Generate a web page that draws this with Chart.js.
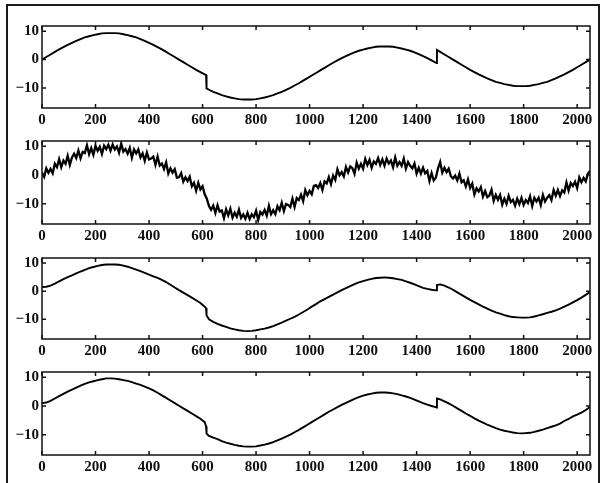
<!DOCTYPE html>
<html>
<head>
<meta charset="utf-8">
<script src="https://cdn.jsdelivr.net/npm/chart.js@4.4.1/dist/chart.umd.min.js"></script>
<style>
  html, body { margin: 0; padding: 0; background: #fff; }
  #fig { position: relative; width: 601px; height: 483px; overflow: hidden; background: #fff; }
  #frame { position: absolute; left: 6px; top: 4px; width: 590px; height: 490px;
           border-left: 2px solid #1a1a1a; border-top: 2px solid #1a1a1a; border-right: 2px solid #1a1a1a; }
  canvas { position: absolute; left: 0; }
</style>
</head>
<body>
<div id="fig">
  <div id="frame"></div>
  <canvas id="c1" width="601" height="122" style="top:14px"></canvas>
  <canvas id="c2" width="601" height="123" style="top:129px"></canvas>
  <canvas id="c3" width="601" height="121" style="top:246px"></canvas>
  <canvas id="c4" width="601" height="123" style="top:360px"></canvas>
</div>
<script>
// sample positions for the smooth signals (extra points sit on both sides of the two jumps)
const smoothIndex = [0,16,32,48,64,80,96,112,128,144,160,176,192,208,224,240,256,272,288,304,320,336,352,368,384,400,416,432,448,464,480,496,512,528,544,560,576,592,608,613,615,624,640,656,672,688,704,720,736,752,768,784,800,816,832,848,864,880,896,912,928,944,960,976,992,1008,1024,1040,1056,1072,1088,1104,1120,1136,1152,1168,1184,1200,1216,1232,1248,1264,1280,1296,1312,1328,1344,1360,1376,1392,1408,1424,1440,1456,1472,1474,1476,1488,1504,1520,1536,1552,1568,1584,1600,1616,1632,1648,1664,1680,1696,1712,1728,1744,1760,1776,1792,1808,1824,1840,1856,1872,1888,1904,1920,1936,1952,1968,1984,2000,2016,2032,2048];

// sample positions for the noisy signal
const noisyIndex = [0,8,16,24,32,40,48,56,64,72,80,88,96,104,112,120,128,136,144,152,160,168,176,184,192,200,208,216,224,232,240,248,256,264,272,280,288,296,304,312,320,328,336,344,352,360,368,376,384,392,400,408,416,424,432,440,448,456,464,472,480,488,496,504,512,520,528,536,544,552,560,568,576,584,592,600,608,616,624,632,640,648,656,664,672,680,688,696,704,712,720,728,736,744,752,760,768,776,784,792,800,808,816,824,832,840,848,856,864,872,880,888,896,904,912,920,928,936,944,952,960,968,976,984,992,1000,1008,1016,1024,1032,1040,1048,1056,1064,1072,1080,1088,1096,1104,1112,1120,1128,1136,1144,1152,1160,1168,1176,1184,1192,1200,1208,1216,1224,1232,1240,1248,1256,1264,1272,1280,1288,1296,1304,1312,1320,1328,1336,1344,1352,1360,1368,1376,1384,1392,1400,1408,1416,1424,1432,1440,1448,1456,1464,1472,1480,1488,1496,1504,1512,1520,1528,1536,1544,1552,1560,1568,1576,1584,1592,1600,1608,1616,1624,1632,1640,1648,1656,1664,1672,1680,1688,1696,1704,1712,1720,1728,1736,1744,1752,1760,1768,1776,1784,1792,1800,1808,1816,1824,1832,1840,1848,1856,1864,1872,1880,1888,1896,1904,1912,1920,1928,1936,1944,1952,1960,1968,1976,1984,1992,2000,2008,2016,2024,2032,2040,2048];

// original signal
const cleanSignal = [
  0,0.9,1.8,2.7,3.6,4.4,5.2,5.9,6.6,7.2,7.8,8.2,8.6,8.9,9.2,9.3,9.3,9.3,9.2,8.9,8.6,8.2,7.8,7.2,6.6,5.9,5.2,4.4,3.6,2.7,1.8,0.9,0,-0.9,-1.8,-2.7,-3.6,-4.4,-5.2,
  -5.4,-10.1,
  -10.6,-11.3,-11.9,-12.5,-12.9,-13.3,-13.6,-13.9,-14.0,-14.0,-14.0,-13.9,-13.6,-13.3,-12.9,-12.5,-11.9,-11.3,-10.6,-9.9,-9.1,-8.3,-7.4,-6.5,-5.6,-4.7,-3.8,-2.9,-2.0,-1.1,-0.3,0.5,1.2,1.9,2.5,3.1,3.5,3.9,4.2,4.5,4.6,4.6,4.6,4.5,4.2,3.9,3.5,3.1,2.5,1.9,1.2,0.5,-0.3,-1.1,
  -1.2,3.4,
  2.7,1.8,0.9,0,-0.9,-1.8,-2.7,-3.6,-4.4,-5.2,-5.9,-6.6,-7.2,-7.8,-8.2,-8.6,-8.9,-9.2,-9.3,-9.3,-9.3,-9.2,-8.9,-8.6,-8.2,-7.8,-7.2,-6.6,-5.9,-5.2,-4.4,-3.6,-2.7,-1.8,-0.9,0
];

// signal with noise
const noisySignal = [
  0.8,-0.6,2.3,0.8,2.1,0.6,3.9,2.7,5.5,2.7,5.0,3.9,6.7,3.5,6.1,7.4,5.9,8.5,5.8,8.0,7.6,10.3,7.2,9.3,7.0,10.1,8.4,9.8,7.3,10.2,9.0,10.5,
  8.4,10.6,8.9,9.9,7.7,10.9,8.1,9.0,7.4,9.4,6.0,8.9,7.5,8.9,6.1,7.5,4.9,7.8,5.4,5.7,6.4,3.5,6.4,3.3,4.0,2.1,4.4,0.5,2.3,0.8,2.0,-0.9,
  -0.8,0.6,-2.3,-0.8,-2.1,-0.6,-3.9,-2.7,-5.5,-2.7,-5.0,-3.9,-6.7,-8.2,-10.8,-12.1,-10.6,-13.2,-10.5,-12.7,-12.3,-15.0,-11.9,-14.0,-11.7,-14.8,-13.1,-14.5,-12.0,-14.9,-13.7,-15.2,
  -13.1,-15.3,-13.6,-14.6,-12.4,-15.6,-12.8,-13.7,-12.1,-14.1,-10.7,-13.6,-12.2,-13.6,-10.8,-12.2,-9.6,-12.5,-10.1,-10.4,-11.1,-8.2,-11.1,-8.0,-8.7,-6.8,-9.1,-5.2,-7.0,-5.5,-6.7,-3.8,
  -3.5,-4.5,-2.8,-5.2,-2.2,-2.9,-0.7,-3.2,-0.2,-1.7,2.0,-0.1,1.0,-0.5,2.8,0.9,3.0,2.4,0.4,4.3,2.2,3.9,2.2,5.6,3.5,5.3,2.5,4.7,3.9,5.9,3.5,5.4,
  3.2,5.7,4.0,5.0,2.7,6.1,3.2,4.5,3.2,5.7,2.2,4.5,3.2,2.3,4.0,0.5,2.5,0.5,2.6,0.6,1.4,-2.1,0.7,-1.9,-0.9,2.3,4.5,0.8,2.5,1.0,2.2,-0.4,
  -1.2,-0.2,-1.9,0.5,-2.5,-1.8,-4.0,-1.5,-4.5,-3.0,-6.7,-4.6,-5.7,-4.2,-7.5,-5.6,-7.7,-7.1,-5.1,-9.0,-6.9,-8.6,-6.9,-10.3,-8.2,-10.0,-7.2,-9.4,-8.6,-10.6,-8.2,-10.1,
  -7.9,-10.4,-8.7,-9.7,-7.4,-10.8,-7.9,-9.2,-7.9,-10.4,-6.9,-9.2,-7.9,-7.0,-8.7,-5.2,-7.2,-5.2,-7.3,-5.3,-6.1,-2.6,-5.4,-2.8,-3.8,-2.3,-4.5,-0.8,-2.5,-1.0,-2.2,0.4,
  1.4
];

// first reconstruction
const denoisedA = [
  1.5,1.6,2.0,2.7,3.5,4.3,5.0,5.6,6.3,7.0,7.6,8.2,8.6,9.0,9.3,9.5,9.5,9.5,9.4,9.1,8.7,8.2,7.7,7.1,6.5,5.9,5.3,4.7,4.0,3.2,2.3,1.3,0.4,-0.5,-1.4,-2.3,-3.2,-4.2,-5.5,
  -6.0,-8.6,
  -10.0,-10.9,-11.6,-12.2,-12.7,-13.2,-13.6,-13.9,-14.1,-14.2,-14.1,-13.9,-13.6,-13.3,-12.9,-12.4,-11.8,-11.2,-10.5,-9.8,-9.1,-8.3,-7.4,-6.5,-5.5,-4.6,-3.6,-2.8,-2.0,-1.2,-0.4,0.4,1.1,1.8,2.5,3.1,3.6,4.0,4.4,4.7,4.8,4.9,4.8,4.6,4.3,4.0,3.5,3.0,2.4,1.8,1.2,0.8,0.5,0.3,
  0.3,2.2,
  2.4,2.0,1.3,0.5,-0.4,-1.3,-2.2,-3.1,-3.9,-4.7,-5.5,-6.2,-6.9,-7.5,-8.0,-8.5,-8.9,-9.2,-9.3,-9.4,-9.4,-9.3,-9.0,-8.6,-8.2,-7.7,-7.3,-6.8,-6.2,-5.5,-4.8,-4.0,-3.2,-2.3,-1.3,-0.3
];

// second reconstruction
const denoisedB = [
  1.0,1.2,1.8,2.6,3.4,4.2,5.0,5.7,6.4,7.1,7.7,8.2,8.6,9.0,9.3,9.6,9.6,9.5,9.3,9.0,8.7,8.3,7.8,7.3,6.7,6.1,5.4,4.6,3.7,2.8,1.9,1.0,0.1,-0.8,-1.7,-2.6,-3.5,-4.4,-5.6,
  -7.0,-9.6,
  -10.4,-11.0,-11.5,-12.2,-12.7,-13.1,-13.5,-13.8,-14.0,-14.1,-14.1,-14.0,-13.7,-13.4,-13.0,-12.5,-11.9,-11.3,-10.6,-9.9,-9.1,-8.3,-7.4,-6.5,-5.6,-4.7,-3.8,-2.9,-2.0,-1.2,-0.4,0.4,1.1,1.8,2.5,3.1,3.6,4.0,4.3,4.6,4.7,4.7,4.6,4.4,4.1,3.7,3.3,2.8,2.2,1.6,1.0,0.5,0.0,-0.4,
  -0.5,2.6,
  2.3,1.6,0.9,0.1,-0.8,-1.7,-2.6,-3.4,-4.3,-5.1,-5.8,-6.5,-7.1,-7.7,-8.2,-8.6,-8.9,-9.2,-9.4,-9.5,-9.4,-9.3,-9.0,-8.6,-8.2,-7.7,-7.2,-6.7,-6.1,-5.2,-4.5,-3.6,-3.0,-2.3,-1.4,-0.4
];

const xTickValues = [0, 200, 400, 600, 800, 1000, 1200, 1400, 1600, 1800, 2000];
const yTickValues = [-10, 0, 10];

const ink = '#111';
const labelFont = { family: '"Liberation Serif", "DejaVu Serif", serif', size: 15, weight: 'bold' };

// box around the plot area plus inward tick marks on all four sides
const boxTicks = {
  id: 'boxTicks',
  afterDraw(chart) {
    const { ctx, chartArea: a, scales: { x, y } } = chart;
    ctx.save();
    ctx.strokeStyle = ink;
    ctx.lineWidth = 1.5;
    ctx.strokeRect(a.left, a.top, a.right - a.left, a.bottom - a.top);
    ctx.beginPath();
    x.ticks.forEach(t => {
      const px = x.getPixelForValue(t.value);
      ctx.moveTo(px, a.bottom); ctx.lineTo(px, a.bottom - 4);
      ctx.moveTo(px, a.top); ctx.lineTo(px, a.top + 4);
    });
    y.ticks.forEach(t => {
      const py = y.getPixelForValue(t.value);
      ctx.moveTo(a.left, py); ctx.lineTo(a.left + 4, py);
      ctx.moveTo(a.right, py); ctx.lineTo(a.right - 4, py);
    });
    ctx.stroke();
    ctx.restore();
  }
};

function makePanel(id, xs, ys, width) {
  const ctx = document.getElementById(id).getContext('2d');
  return new Chart(ctx, {
    type: 'line',
    data: {
      datasets: [{
        data: xs.map((x, i) => ({ x: x, y: ys[i] })),
        borderColor: '#000',
        borderWidth: width,
        pointRadius: 0,
        tension: 0,
        fill: false
      }]
    },
    options: {
      responsive: false,
      animation: false,
      devicePixelRatio: 1,
      layout: { padding: { left: 0, right: 11, top: 8, bottom: 0 } },
      plugins: { legend: { display: false }, tooltip: { enabled: false } },
      scales: {
        x: {
          type: 'linear',
          min: 0,
          max: 2048,
          grid: { display: false, drawTicks: false },
          border: { display: false },
          afterBuildTicks: s => { s.ticks = xTickValues.map(v => ({ value: v })); },
          afterFit: s => { s.height = 28; },
          ticks: {
            color: ink, font: labelFont, padding: 3, maxRotation: 0, autoSkip: false,
            callback: v => String(v)
          }
        },
        y: {
          min: -17,
          max: 11.8,
          grid: { display: false, drawTicks: false },
          border: { display: false },
          afterBuildTicks: s => { s.ticks = yTickValues.map(v => ({ value: v })); },
          afterFit: s => { s.width = 42; },
          ticks: {
            color: ink, font: labelFont, padding: 3,
            callback: v => (v < 0 ? '\u2212' + Math.abs(v) : String(v))
          }
        }
      }
    },
    plugins: [boxTicks]
  });
}

makePanel('c1', smoothIndex, cleanSignal, 1.9);
makePanel('c2', noisyIndex, noisySignal, 2.3);
makePanel('c3', smoothIndex, denoisedA, 1.9);
makePanel('c4', smoothIndex, denoisedB, 1.9);
</script>
</body>
</html>
